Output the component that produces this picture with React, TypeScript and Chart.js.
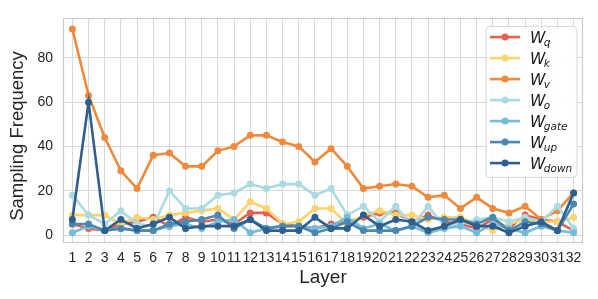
import React, { useEffect, useRef } from "react";
import { Chart, registerables } from "chart.js";

Chart.register(...registerables);

const layers = [1, 2, 3, 4, 5, 6, 7, 8, 9, 10, 11, 12, 13, 14, 15, 16, 17, 18, 19, 20, 21, 22, 23, 24, 25, 26, 27, 28, 29, 30, 31, 32];
const yTicks = [0, 20, 40, 60, 80];

const wq = [5, 3, 2, 5, 6, 8, 4, 8, 6, 7, 5, 10, 10, 5, 4, 3, 5, 6, 8, 10, 10, 6, 9, 6, 5, 3, 7, 3, 9, 7, 6, 2];
const wk = [9, 9, 9, 5, 8, 7, 9, 10, 11, 12, 7, 15, 12, 5, 6, 12, 12, 5, 9, 11, 9, 9, 7, 8, 8, 5, 2, 5, 7, 6, 6, 8];
const wv = [93, 63, 44, 29, 21, 36, 37, 31, 31, 38, 40, 45, 45, 42, 40, 33, 39, 31, 21, 22, 23, 22, 17, 18, 12, 17, 12, 10, 13, 7, 11, 19];
const wo = [18, 9, 5, 11, 5, 4, 20, 12, 12, 18, 19, 23, 21, 23, 23, 18, 21, 9, 13, 6, 13, 4, 13, 4, 5, 7, 8, 6, 8, 6, 13, 3];
const wgate = [1, 4, 2, 3, 2, 2, 4, 5, 3, 6, 7, 1, 3, 4, 4, 3, 4, 8, 3, 5, 2, 4, 1, 3, 4, 1, 5, 3, 1, 4, 2, 1];
const wup = [5, 5, 2, 3, 2, 2, 5, 6, 7, 9, 3, 7, 3, 4, 4, 1, 3, 6, 2, 2, 2, 4, 8, 7, 7, 5, 8, 2, 6, 5, 2, 14];
const wdown = [7, 60, 2, 7, 3, 5, 8, 3, 4, 4, 4, 7, 2, 2, 2, 8, 3, 3, 9, 4, 7, 6, 2, 4, 7, 4, 4, 1, 4, 6, 2, 19];

const seriesNames = ["q", "k", "v", "o", "gate", "up", "down"];
const seriesData = [wq, wk, wv, wo, wgate, wup, wdown];
const seriesColors = ["#e8604c", "#fdd36b", "#ef8a3c", "#a9dbe0", "#72bcdc", "#4b88af", "#2e5f8e"];

const yTitle = "Sampling Frequency";
const xTitle = "Layer";

const FONT = '"Liberation Sans", Arial, sans-serif';
const TEXT = "#262626";

const framePlugin = {
  id: "frame",
  beforeDatasetsDraw(chart: any) {
    const { ctx, chartArea: a } = chart;
    ctx.save();
    ctx.strokeStyle = "#cccccc";
    ctx.lineWidth = 1.2;
    ctx.strokeRect(Math.round(a.left) + 0.5, Math.round(a.top) + 0.5, Math.round(a.right - a.left) - 1, Math.round(a.bottom - a.top) - 1);
    ctx.restore();
  },
};

const yTitlePlugin = {
  id: "yTitle",
  afterDraw(chart: any) {
    const { ctx } = chart;
    ctx.save();
    ctx.translate(18, 136);
    ctx.rotate(-Math.PI / 2);
    ctx.fillStyle = TEXT;
    ctx.font = `18.5px ${FONT}`;
    ctx.textAlign = "center";
    ctx.textBaseline = "middle";
    ctx.fillText(yTitle, 0, 0);
    ctx.restore();
  },
};

const legendPlugin = {
  id: "mathLegend",
  afterDraw(chart: any) {
    const { ctx, chartArea: a } = chart;
    const bx = a.right - 97;
    const by = a.top + 8;
    const bw = 91;
    const bh = 151;
    ctx.save();
    ctx.beginPath();
    const r = 4;
    ctx.moveTo(bx + r, by);
    ctx.lineTo(bx + bw - r, by);
    ctx.quadraticCurveTo(bx + bw, by, bx + bw, by + r);
    ctx.lineTo(bx + bw, by + bh - r);
    ctx.quadraticCurveTo(bx + bw, by + bh, bx + bw - r, by + bh);
    ctx.lineTo(bx + r, by + bh);
    ctx.quadraticCurveTo(bx, by + bh, bx, by + bh - r);
    ctx.lineTo(bx, by + r);
    ctx.quadraticCurveTo(bx, by, bx + r, by);
    ctx.closePath();
    ctx.fillStyle = "rgba(255,255,255,0.85)";
    ctx.fill();
    ctx.strokeStyle = "#d6d6d6";
    ctx.lineWidth = 1;
    ctx.stroke();

    seriesNames.forEach((name, i) => {
      const cy = by + 10.7 + i * 21;
      const color = seriesColors[i];
      ctx.strokeStyle = color;
      ctx.lineWidth = 2.6;
      ctx.beginPath();
      ctx.moveTo(bx + 4, cy);
      ctx.lineTo(bx + 34, cy);
      ctx.stroke();
      ctx.fillStyle = color;
      ctx.beginPath();
      ctx.arc(bx + 19, cy, 3.5, 0, Math.PI * 2);
      ctx.fill();

      ctx.fillStyle = "#1a1a1a";
      ctx.textBaseline = "alphabetic";
      ctx.textAlign = "left";
      ctx.font = 'italic 15.5px "DejaVu Sans"';
      const wx = bx + 44;
      ctx.fillText("W", wx, cy + 5.5);
      const ww = ctx.measureText("W").width;
      ctx.font = 'italic 10.5px "DejaVu Sans"';
      ctx.fillText(name, wx + ww - 1.5, cy + 8.5);
    });
    ctx.restore();
  },
};

export default function App() {
  const ref = useRef<HTMLCanvasElement | null>(null);

  useEffect(() => {
    document.body.style.margin = "0";
    const canvas = ref.current;
    if (!canvas) return;
    const datasets = seriesNames.map((name, i) => ({
      label: "W_" + name,
      data: layers.map((l, j) => ({ x: l, y: seriesData[i][j] })),
      borderColor: seriesColors[i],
      backgroundColor: seriesColors[i],
      borderWidth: 2.6,
      pointRadius: 3.5,
      pointHoverRadius: 3.5,
      pointBorderWidth: 0,
      tension: 0,
      order: 7 - i,
    }));
    const chart = new Chart(canvas, {
      type: "line",
      data: { datasets },
      plugins: [framePlugin, legendPlugin, yTitlePlugin],
      options: {
        animation: false,
        responsive: false,
        devicePixelRatio: 1,
        layout: { padding: { top: 14, right: 15, left: 0, bottom: 0 } },
        plugins: {
          legend: { display: false },
          tooltip: { enabled: false },
        },
        scales: {
          x: {
            type: "linear",
            min: 0.42,
            max: 32.58,
            afterBuildTicks: (s: any) => {
              s.ticks = layers.map((v) => ({ value: v }));
            },
            afterFit: (s: any) => {
              s.height = 56;
            },
            grid: { color: "#d9d9d9", lineWidth: 1, drawTicks: false },
            border: { display: false },
            ticks: {
              autoSkip: false,
              maxRotation: 0,
              minRotation: 0,
              padding: 7,
              color: TEXT,
              font: { family: FONT, size: 14 },
              callback: (v: any) => String(v),
            },
            title: {
              display: true,
              text: xTitle,
              color: TEXT,
              font: { family: FONT, size: 19 },
              padding: { top: 0, bottom: 10 },
            },
          },
          y: {
            type: "linear",
            min: -3.6,
            max: 97.8,
            afterBuildTicks: (s: any) => {
              s.ticks = yTicks.map((v) => ({ value: v }));
            },
            afterFit: (s: any) => {
              s.width = 63;
            },
            grid: { color: "#d9d9d9", lineWidth: 1, drawTicks: false },
            border: { display: false },
            ticks: {
              padding: 10,
              color: TEXT,
              font: { family: FONT, size: 14 },
            },
          },
        },
      },
    });
    return () => chart.destroy();
  }, []);

  return (
    <div style={{ width: 598, height: 299 }}>
      <canvas ref={ref} width={598} height={299} style={{ display: "block" }} />
    </div>
  );
}
